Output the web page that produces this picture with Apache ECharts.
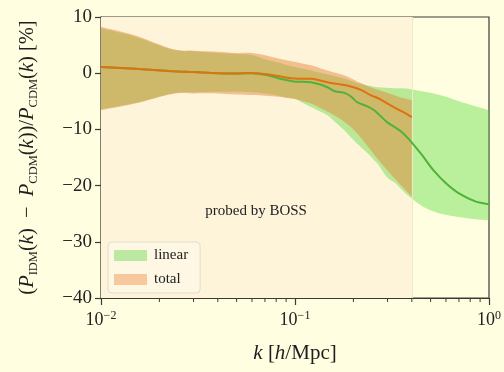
<!DOCTYPE html>
<html>
<head>
<meta charset="utf-8">
<script src="https://cdn.jsdelivr.net/npm/echarts@6/dist/echarts.min.js"></script>
<style>
  html, body { margin: 0; padding: 0; background: #fffee1; }
  #chart { width: 504px; height: 372px; }
</style>
</head>
<body>
<div id="chart"></div>
<script>
// Linear prediction: wavenumber grid, mean deviation and 1-sigma band [%]
const kLinear = [0.01, 0.015, 0.0233, 0.03, 0.04, 0.05, 0.06, 0.073, 0.082, 0.09, 0.1, 0.11, 0.121, 0.135, 0.147, 0.16, 0.18, 0.195, 0.21, 0.236, 0.256, 0.27, 0.298, 0.33, 0.35, 0.39, 0.45, 0.518, 0.6, 0.7, 0.85, 1.0];
const linearMean = [1.1, 0.8, 0.35, 0.2, 0.0, -0.05, 0.0, -0.4, -0.9, -1.2, -1.5, -1.5, -1.6, -2.0, -2.5, -3.2, -3.5, -4.2, -5.2, -5.9, -6.6, -7.3, -8.7, -9.7, -10.3, -11.9, -14.5, -17.3, -19.6, -21.4, -22.8, -23.3];
const linearUpper = [8.0, 6.5, 4.2, 3.9, 3.6, 3.4, 3.2, 2.3, 1.9, 1.5, 1.1, 0.8, 0.5, 0.1, -0.2, -0.5, -1.0, -1.4, -1.8, -2.2, -2.4, -2.5, -2.6, -2.7, -2.7, -2.8, -3.2, -3.6, -4.2, -5.0, -5.9, -6.6];
const linearLower = [-6.4, -5.3, -3.6, -3.4, -3.3, -3.3, -3.4, -3.7, -4.0, -4.3, -4.6, -5.3, -6.0, -6.8, -7.5, -8.6, -10.2, -11.5, -12.6, -14.2, -15.5, -16.4, -18.5, -19.6, -20.5, -22.0, -23.6, -24.6, -25.2, -25.6, -26.0, -26.2];

// Total (nonlinear) prediction, limited to the BOSS range
const kTotal = [0.01, 0.015, 0.0233, 0.03, 0.04, 0.05, 0.06, 0.07, 0.082, 0.09, 0.1, 0.11, 0.121, 0.135, 0.15, 0.165, 0.18, 0.2, 0.22, 0.245, 0.27, 0.3, 0.33, 0.36, 0.4];
const totalMean = [1.1, 0.8, 0.35, 0.2, 0.0, -0.05, 0.05, -0.15, -0.5, -0.75, -0.95, -1.0, -1.0, -1.3, -1.7, -1.9, -2.1, -2.5, -3.0, -3.9, -4.5, -5.4, -6.2, -6.9, -7.8];
const totalUpper = [8.2, 6.7, 4.3, 4.0, 3.8, 3.6, 3.6, 3.2, 2.6, 2.3, 2.0, 1.7, 1.4, 0.9, 0.4, 0.0, -0.4, -1.1, -1.8, -2.5, -3.0, -3.5, -4.0, -4.4, -4.8];
const totalLower = [-6.6, -5.4, -3.7, -3.6, -3.6, -3.8, -3.9, -4.0, -4.2, -4.4, -4.6, -5.0, -5.4, -6.2, -7.0, -7.8, -8.7, -10.0, -11.6, -13.6, -15.5, -17.3, -18.9, -20.3, -22.0];

// Axis ticks
const xMajorTicks = [0.01, 0.1, 1];
const xMinorTicks = [0.02, 0.03, 0.04, 0.05, 0.06, 0.07, 0.08, 0.09, 0.2, 0.3, 0.4, 0.5, 0.6, 0.7, 0.8, 0.9];
const yTicks = [-40, -30, -20, -10, 0, 10];
const bossLimit = 0.4;
const annotation = { k: 0.063, value: -24.6, text: 'probed by BOSS' };

const FONT = 'Liberation Serif';
const pairs = (ks, vs) => ks.map((k, i) => [k, vs[i]]);
const minusSign = s => String(s).replace('-', '\u2212');

// Smooth SVG-style path through pixel points (Catmull-Rom turned into cubic Béziers)
function smoothPath(pts, moveFirst) {
  let d = (moveFirst ? 'M' : 'L') + pts[0][0] + ' ' + pts[0][1];
  for (let i = 0; i < pts.length - 1; i++) {
    const p0 = pts[Math.max(i - 1, 0)], p1 = pts[i], p2 = pts[i + 1], p3 = pts[Math.min(i + 2, pts.length - 1)];
    const c1x = p1[0] + (p2[0] - p0[0]) / 6, c1y = p1[1] + (p2[1] - p0[1]) / 6;
    const c2x = p2[0] - (p3[0] - p1[0]) / 6, c2y = p2[1] - (p3[1] - p1[1]) / 6;
    d += ' C' + c1x + ' ' + c1y + ' ' + c2x + ' ' + c2y + ' ' + p2[0] + ' ' + p2[1];
  }
  return d;
}

// Band between lower and upper curves, drawn as one closed path through the axis scales
function bandSeries(name, ks, lower, upper, color, opacity, z) {
  return {
    name, type: 'custom', silent: true, z, clip: true,
    itemStyle: { color },
    data: ks.map((k, i) => [k, lower[i], upper[i]]),
    encode: { x: 0, y: [1, 2] },
    renderItem: (params, api) => {
      if (params.dataIndex !== 0) return null;
      const top = ks.map((k, i) => api.coord([k, upper[i]]));
      const bottom = ks.map((k, i) => api.coord([k, lower[i]])).reverse();
      const d = smoothPath(top, true) + ' ' + smoothPath(bottom, false) + ' Z';
      return {
        type: 'path',
        shape: { pathData: d, layout: 'cover' },
        style: { fill: color, opacity }
      };
    }
  };
}

const chart = echarts.init(document.getElementById('chart'), null, { renderer: 'canvas' });

chart.setOption({
  backgroundColor: '#fffee1',
  animation: false,
  grid: { left: 101, right: 11, top: 17, bottom: 74, show: true, borderColor: '#3b3b35', borderWidth: 1.2, backgroundColor: 'transparent' },
  xAxis: {
    type: 'log', logBase: 10, min: xMajorTicks[0], max: xMajorTicks[xMajorTicks.length - 1],
    name: '{i|k} [{i|h}/Mpc]',
    nameLocation: 'middle', nameGap: 45,
    nameTextStyle: {
      fontFamily: FONT, fontSize: 21, color: '#1e1e1e',
      rich: { i: { fontFamily: FONT, fontSize: 21, fontStyle: 'italic', color: '#1e1e1e' } }
    },
    axisLine: { onZero: false, lineStyle: { color: '#3b3b35', width: 1.2 } },
    axisTick: { length: 7, lineStyle: { color: '#3b3b35', width: 1.2 } },
    splitLine: { show: false },
    axisLabel: {
      margin: 12, color: '#222', fontFamily: FONT, fontSize: 18,
      formatter: v => '10{sup|' + minusSign(Math.round(Math.log10(v))) + '}',
      rich: { sup: { fontFamily: FONT, fontSize: 12, verticalAlign: 'top', padding: [0, 0, 8, 0], color: '#222' } }
    }
  },
  yAxis: {
    type: 'value', min: yTicks[0], max: yTicks[yTicks.length - 1], interval: 10,
    name: '({i|P}{sub|IDM}({i|k})  \u2212  {i|P}{sub|CDM}({i|k}))/{i|P}{sub|CDM}({i|k}) [%]',
    nameLocation: 'middle', nameRotate: 90, nameGap: 73,
    nameTextStyle: {
      fontFamily: FONT, fontSize: 20.5, color: '#1e1e1e', lineHeight: 24, verticalAlign: 'middle',
      rich: {
        i: { fontFamily: FONT, fontSize: 20.5, fontStyle: 'italic', color: '#1e1e1e', lineHeight: 24 },
        sub: { fontFamily: FONT, fontSize: 12.5, color: '#1e1e1e', lineHeight: 24, verticalAlign: 'bottom' }
      }
    },
    axisLine: { show: true, onZero: false, lineStyle: { color: '#3b3b35', width: 1.2 } },
    axisTick: { show: true, length: 6, lineStyle: { color: '#3b3b35', width: 1.2 } },
    splitLine: { show: false },
    axisLabel: {
      margin: 9, color: '#222', fontFamily: FONT, fontSize: 19,
      formatter: v => minusSign(v)
    }
  },
  legend: {
    left: 108, top: 242, orient: 'vertical',
    itemWidth: 33, itemHeight: 11, itemGap: 9,
    padding: [6, 12, 6, 6],
    backgroundColor: 'rgba(255,255,255,0.25)',
    borderColor: '#e2dfcb', borderWidth: 1, borderRadius: 4,
    textStyle: { fontFamily: FONT, fontSize: 15, color: '#222', lineHeight: 14, padding: [0, 0, 0, 2] },
    data: [
      { name: 'linear', icon: 'rect', itemStyle: { color: '#bce9a2', opacity: 1 } },
      { name: 'total', icon: 'rect', itemStyle: { color: '#f7c89b', opacity: 1 } }
    ],
    selectedMode: false
  },
  series: [
    {
      name: 'boss-range', type: 'line', symbol: 'none', silent: true, z: 0,
      data: pairs(kLinear, linearMean), lineStyle: { opacity: 0 },
      markArea: {
        silent: true,
        itemStyle: { color: '#fdf4da' },
        data: [[{ xAxis: xMajorTicks[0] }, { xAxis: bossLimit }]]
      },
      markLine: {
        silent: true, symbol: 'none', label: { show: false },
        lineStyle: { color: '#f1e6c6', width: 1, type: 'solid' },
        data: [{ xAxis: bossLimit }]
      }
    },
    bandSeries('linear', kLinear, linearLower, linearUpper, 'rgb(83,217,50)', 0.4, 2),
    bandSeries('total', kTotal, totalLower, totalUpper, 'rgb(228,128,52)', 0.46, 4),
    {
      name: 'linear-mean', type: 'line', symbol: 'none', smooth: 0.3,
      data: pairs(kLinear, linearMean), lineStyle: { color: '#4fb23a', width: 2 }, z: 5
    },
    {
      name: 'total-mean', type: 'line', symbol: 'none', smooth: 0.3,
      data: pairs(kTotal, totalMean), lineStyle: { color: '#e0710f', width: 2 }, z: 6,
      markPoint: {
        silent: true, symbol: 'rect', symbolSize: 0,
        label: { show: true, position: 'inside', formatter: annotation.text, fontFamily: FONT, fontSize: 15, color: '#222' },
        data: [{ coord: [annotation.k, annotation.value] }]
      }
    },
    {
      name: 'minor-ticks', type: 'custom', silent: true, z: 7, clip: false,
      data: xMinorTicks.map(k => [k, yTicks[0]]),
      renderItem: (params, api) => {
        const p = api.coord([api.value(0), api.value(1)]);
        return {
          type: 'line',
          shape: { x1: p[0], y1: p[1], x2: p[0], y2: p[1] + 4 },
          style: { stroke: '#3b3b35', lineWidth: 1 }
        };
      }
    }
  ]
});
</script>
</body>
</html>
